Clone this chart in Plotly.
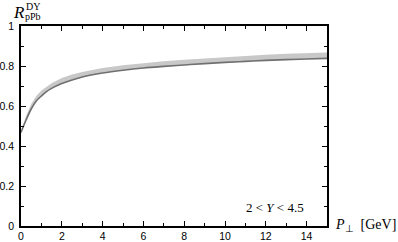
import plotly.graph_objects as go

pt = [0, 0.25, 0.5, 0.75, 1, 1.25, 1.5, 2, 2.5, 3, 4, 5, 6, 7, 8, 9, 10, 11, 12, 13, 14, 15]
lower = [0.468, 0.53, 0.585, 0.625, 0.65, 0.672, 0.688, 0.712, 0.73, 0.745, 0.765, 0.779, 0.79, 0.798, 0.805, 0.812, 0.818, 0.823, 0.828, 0.832, 0.835, 0.838]
upper = [0.476, 0.55, 0.61, 0.65, 0.678, 0.698, 0.714, 0.74, 0.757, 0.77, 0.79, 0.804, 0.815, 0.824, 0.831, 0.838, 0.845, 0.851, 0.856, 0.861, 0.864, 0.867]

fig = go.Figure()
fig.add_trace(go.Scatter(x=pt, y=upper, mode="lines", line=dict(color="rgba(0,0,0,0)", width=0),
                         hoverinfo="skip", showlegend=False))
fig.add_trace(go.Scatter(x=pt, y=lower, mode="lines", fill="tonexty", fillcolor="#c8c8c8",
                         line=dict(color="#707070", width=1.6, shape="spline"), showlegend=False))

tickfont = dict(family="Liberation Sans, Arial, sans-serif", size=10.5, color="black")
serif = "Liberation Serif, Times New Roman, serif"

fig.update_xaxes(range=[0, 15], tickmode="array", tickvals=[0, 2, 4, 6, 8, 10, 12, 14],
                 ticks="inside", ticklen=5, tickwidth=1, tickcolor="black",
                 minor=dict(tickmode="array", tickvals=[1, 3, 5, 7, 9, 11, 13], ticks="inside", ticklen=3, tickcolor="black"),
                 showline=True, linecolor="black", linewidth=1.5, mirror="ticks", automargin=False,
                 showgrid=False, zeroline=False, tickfont=tickfont, ticklabelstandoff=0)
fig.update_yaxes(range=[0, 1], tickmode="array", tickvals=[0, 0.2, 0.4, 0.6, 0.8, 1],
                 ticktext=["0", "0.2", "0.4", "0.6", "0.8", "1"],
                 ticks="inside", ticklen=5, tickwidth=1, tickcolor="black",
                 minor=dict(tickmode="array", tickvals=[0.1, 0.3, 0.5, 0.7, 0.9], ticks="inside", ticklen=3, tickcolor="black"),
                 showline=True, linecolor="black", linewidth=1.5, mirror="ticks", automargin=False,
                 showgrid=False, zeroline=False, tickfont=tickfont, ticklabelstandoff=3)

L, T, W, H = 21, 26, 306, 200
annots = [
    dict(x=11, y=1, text="<i>R</i>", font=dict(family=serif, size=17)),
    dict(x=24, y=-1, text="DY", font=dict(family=serif, size=10)),
    dict(x=23, y=9, text="pPb", font=dict(family=serif, size=10)),
    dict(x=333, y=215, text="<i>P</i><sub>⊥</sub>  [GeV]", font=dict(family=serif, size=14)),
    dict(x=244, y=198, text="2 &lt; <i>Y</i> &lt; 4.5", font=dict(family=serif, size=13)),
]
for a in annots:
    fig.add_annotation(xref="paper", yref="paper", x=(a["x"] - L) / W, y=(T + H - a["y"]) / H,
                       xanchor="left", yanchor="top", showarrow=False, text=a["text"],
                       font=dict(color="black", **a["font"]))

fig.update_layout(width=398, height=242, margin=dict(l=L, r=398 - L - W, t=T, b=242 - T - H),
                  paper_bgcolor="white", plot_bgcolor="white", showlegend=False)
fig.write_html("out.html")
